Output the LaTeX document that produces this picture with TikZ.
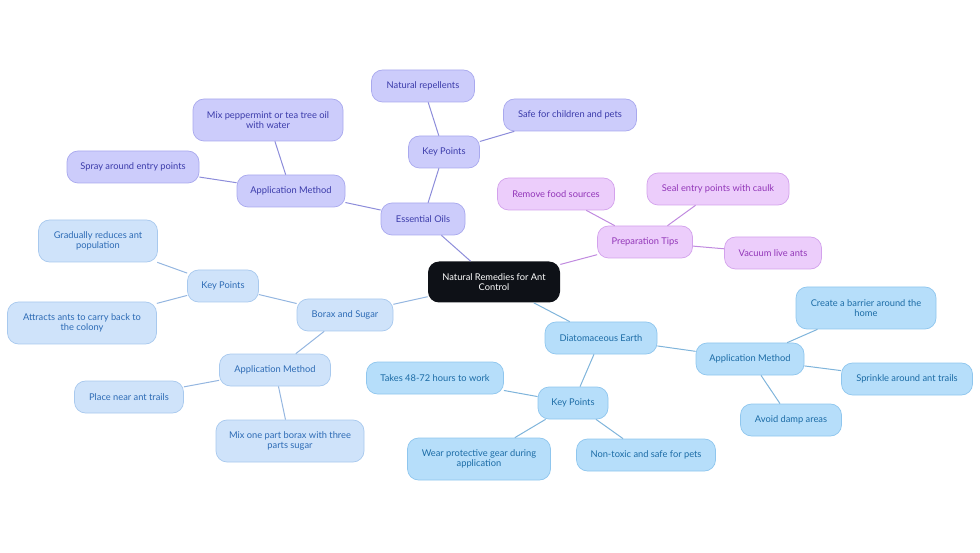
\documentclass[tikz,border=0pt]{standalone}
\usepackage{fontspec}
\setmainfont{Lato}
\definecolor{oilfill}{HTML}{CCCCFB}
\definecolor{oildraw}{HTML}{A9A9EE}
\definecolor{oiltext}{HTML}{3B3BAA}
\definecolor{oilline}{HTML}{8C8CDA}
\definecolor{prepfill}{HTML}{ECCDFB}
\definecolor{prepdraw}{HTML}{D3A2EC}
\definecolor{preptext}{HTML}{9236B8}
\definecolor{prepline}{HTML}{C08ADF}
\definecolor{boraxfill}{HTML}{CFE3FA}
\definecolor{boraxdraw}{HTML}{A8C9EE}
\definecolor{boraxtext}{HTML}{2D6BB5}
\definecolor{boraxline}{HTML}{94B6E0}
\definecolor{earthfill}{HTML}{B6DEFA}
\definecolor{earthdraw}{HTML}{8FC6EE}
\definecolor{earthtext}{HTML}{1C6CA6}
\definecolor{earthline}{HTML}{7FB4DB}
\definecolor{rootfill}{HTML}{0E1117}
\begin{document}
\begin{tikzpicture}[x=1pt,y=-1pt,
  box/.style={rounded corners=11pt,minimum height=32pt,inner xsep=6pt,
    line width=0.7pt,align=center,font=\fontsize{9.3}{10.2}\selectfont},
  twoline/.style={minimum height=42pt},
  link/.style={line width=1pt},
  oil/.style={box,fill=oilfill,draw=oildraw,text=oiltext},
  prep/.style={box,fill=prepfill,draw=prepdraw,text=preptext},
  borax/.style={box,fill=boraxfill,draw=boraxdraw,text=boraxtext},
  earth/.style={box,fill=earthfill,draw=earthdraw,text=earthtext}]
\useasboundingbox (0,0) rectangle (980,553);

\node[box,fill=rootfill,text=white,minimum width=132pt,minimum height=41pt]
  (root) at (494,282) {Natural Remedies for Ant\\Control};

% essential oils
\node[oil,minimum width=84pt] (oils) at (423,219) {Essential Oils};
\node[oil,minimum width=71pt] (oilkey) at (444,152) {Key Points};
\node[oil,minimum width=103pt] (repel) at (423,86) {Natural repellents};
\node[oil,minimum width=133pt] (safe) at (570,115) {Safe for children and pets};
\node[oil,minimum width=108pt] (oilapp) at (291,191) {Application Method};
\node[oil,twoline,minimum width=150pt] (mix) at (268,120)
  {Mix peppermint or tea tree oil\\with water};
\node[oil,minimum width=132pt] (spray) at (133,167) {Spray around entry points};

% preparation
\node[prep,minimum width=95pt] (prep) at (645,242) {Preparation Tips};
\node[prep,minimum width=117pt] (food) at (556,194) {Remove food sources};
\node[prep,minimum width=142pt] (seal) at (718,189) {Seal entry points with caulk};
\node[prep,minimum width=97pt] (vacuum) at (773,253) {Vacuum live ants};

% borax
\node[borax,minimum width=96pt] (borax) at (345,315) {Borax and Sugar};
\node[borax,minimum width=71pt] (boraxkey) at (223,286) {Key Points};
\node[borax,twoline,minimum width=119pt] (reduce) at (98,241)
  {Gradually reduces ant\\population};
\node[borax,twoline,minimum width=149pt] (attract) at (82,323)
  {Attracts ants to carry back to\\the colony};
\node[borax,minimum width=111pt] (boraxapp) at (275,370) {Application Method};
\node[borax,minimum width=109pt] (place) at (129,397) {Place near ant trails};
\node[borax,twoline,minimum width=148pt] (parts) at (290,441)
  {Mix one part borax with three\\parts sugar};

% diatomaceous earth
\node[earth,minimum width=112pt] (earth) at (601,338) {Diatomaceous Earth};
\node[earth,minimum width=108pt] (earthapp) at (750,359) {Application Method};
\node[earth,twoline,minimum width=140pt] (barrier) at (866,308)
  {Create a barrier around the\\home};
\node[earth,minimum width=131pt] (sprinkle) at (907,379) {Sprinkle around ant trails};
\node[earth,minimum width=101pt] (damp) at (791,420) {Avoid damp areas};
\node[earth,minimum width=70pt] (earthkey) at (573,403) {Key Points};
\node[earth,minimum width=137pt] (hours) at (435,378) {Takes 48-72 hours to work};
\node[earth,twoline,minimum width=143pt] (gear) at (479,459)
  {Wear protective gear during\\application};
\node[earth,minimum width=139pt] (toxic) at (646,455) {Non-toxic and safe for pets};

\draw[link,oilline] (root) -- (oils);
\draw[link,oilline] (oils) -- (oilkey);
\draw[link,oilline] (oilkey) -- (repel);
\draw[link,oilline] (oilkey) -- (safe);
\draw[link,oilline] (oils) -- (oilapp);
\draw[link,oilline] (oilapp) -- (mix);
\draw[link,oilline] (oilapp) -- (spray);

\draw[link,prepline] (root) -- (prep);
\draw[link,prepline] (prep) -- (food);
\draw[link,prepline] (prep) -- (seal);
\draw[link,prepline] (prep) -- (vacuum);

\draw[link,boraxline] (root) -- (borax);
\draw[link,boraxline] (borax) -- (boraxkey);
\draw[link,boraxline] (boraxkey) -- (reduce);
\draw[link,boraxline] (boraxkey) -- (attract);
\draw[link,boraxline] (borax) -- (boraxapp);
\draw[link,boraxline] (boraxapp) -- (place);
\draw[link,boraxline] (boraxapp) -- (parts);

\draw[link,earthline] (root) -- (earth);
\draw[link,earthline] (earth) -- (earthapp);
\draw[link,earthline] (earthapp) -- (barrier);
\draw[link,earthline] (earthapp) -- (sprinkle);
\draw[link,earthline] (earthapp) -- (damp);
\draw[link,earthline] (earth) -- (earthkey);
\draw[link,earthline] (earthkey) -- (hours);
\draw[link,earthline] (earthkey) -- (gear);
\draw[link,earthline] (earthkey) -- (toxic);
\end{tikzpicture}
\end{document}
